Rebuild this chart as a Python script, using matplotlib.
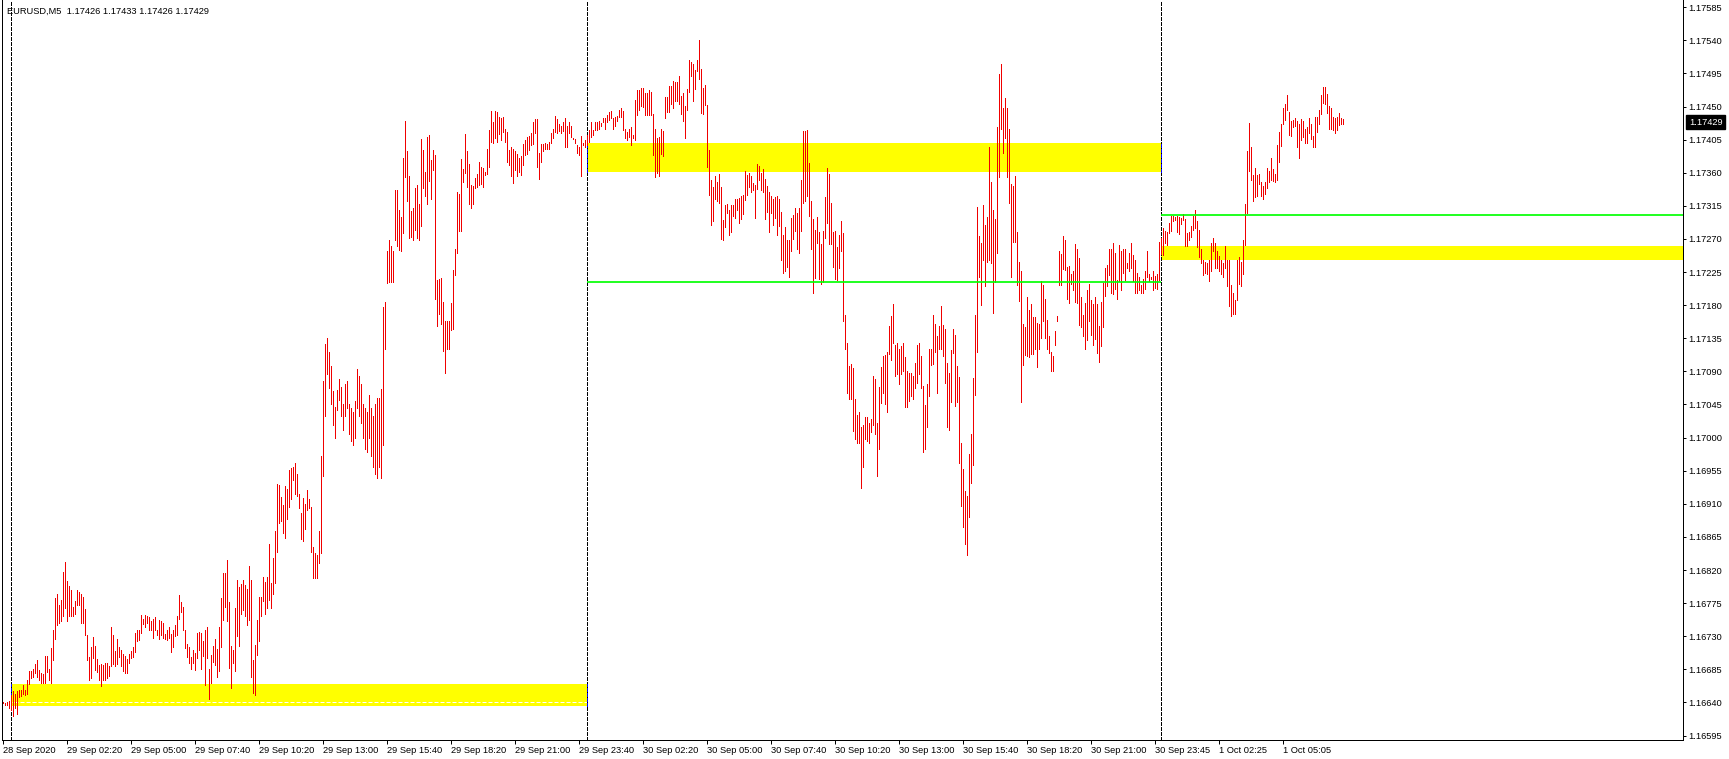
import matplotlib
matplotlib.use("Agg")
import matplotlib.pyplot as plt
import matplotlib.transforms as mtransforms
from matplotlib.patches import Rectangle
import numpy as np

# ---------------- data ----------------
title_text = "EURUSD,M5  1.17426 1.17433 1.17426 1.17429"
base_price = 1.16000   # prices below are in points (0.00001) above this base
point = 0.00001

highs_pts = [
    641,639,640,642,650,655,652,655,657,657,
    664,657,670,683,683,685,692,698,684,680,
    679,703,703,685,714,738,782,787,772,779,
    817,831,805,798,793,770,778,793,790,788,
    783,767,732,702,715,729,717,699,691,692,
    691,693,693,690,742,732,710,726,715,711,
    706,703,699,706,710,715,734,738,739,759,
    753,759,757,756,750,754,756,739,752,750,
    748,733,739,742,733,739,745,757,786,776,
    770,739,720,716,702,711,707,734,736,735,
    723,738,742,686,704,717,726,712,742,782,
    816,816,834,777,717,711,768,806,797,801,
    806,800,794,826,806,697,718,752,783,783,
    811,804,811,856,803,837,873,937,936,919,
    909,934,930,956,958,960,966,951,923,897,
    918,910,929,917,906,851,843,840,873,975,
    1077,1127,1135,1117,1097,1063,1042,1065,1079,1069,
    1045,1073,1077,1045,1040,1035,1050,1093,1084,1073,
    1045,1040,1035,1058,1040,1030,1045,1054,1054,1066,
    1178,1185,1253,1268,1260,1254,1336,1336,1310,1300,
    1380,1430,1390,1355,1308,1312,1340,1344,1318,1406,
    1391,1361,1408,1411,1377,1391,1384,1214,1216,1217,
    1185,1158,1158,1158,1183,1228,1256,1334,1331,1379,
    1365,1413,1389,1372,1343,1342,1353,1358,1375,1368,
    1366,1361,1392,1418,1444,1429,1444,1443,1436,1435,
    1436,1420,1416,1391,1395,1392,1389,1386,1380,1383,
    1399,1404,1409,1410,1414,1429,1433,1433,1387,1399,
    1399,1400,1399,1402,1414,1419,1437,1433,1427,1424,
    1429,1435,1424,1429,1423,1407,1406,1398,1395,1410,
    1401,1405,1412,1418,1429,1418,1429,1429,1430,1428,
    1435,1435,1438,1443,1444,1434,1436,1437,1445,1448,
    1444,1420,1416,1420,1422,1411,1459,1473,1472,1475,
    1475,1469,1469,1473,1470,1440,1420,1407,1408,1420,
    1417,1463,1463,1478,1478,1485,1483,1484,1491,1464,
    1469,1451,1474,1513,1511,1508,1500,1514,1540,1501,
    1475,1479,1452,1391,1350,1341,1355,1348,1359,1341,
    1296,1316,1318,1310,1316,1316,1325,1324,1326,1328,
    1330,1362,1357,1360,1355,1346,1343,1372,1369,1360,
    1365,1351,1342,1334,1328,1324,1327,1328,1325,1307,
    1275,1286,1268,1268,1298,1302,1312,1305,1312,1350,
    1417,1417,1418,1373,1322,1297,1282,1300,1280,1263,
    1281,1327,1366,1358,1319,1280,1281,1259,1275,1294,
    1278,1167,1129,1097,1100,1094,1053,1031,1035,1014,
    1017,1028,1028,1020,1025,1084,1079,1020,1069,1096,
    1111,1112,1117,1152,1165,1182,1126,1128,1120,1124,
    1128,1109,1090,1088,1088,1084,1101,1126,1128,1111,
    1070,1044,1073,1120,1121,1167,1155,1138,1152,1179,
    1153,1147,1101,1088,1119,1147,1140,1097,1082,993,
    957,928,920,978,1005,1081,1167,1313,1274,1265,
    1316,1289,1300,1395,1348,1309,1297,1422,1494,1508,
    1448,1461,1448,1420,1345,1342,1355,1279,1239,1227,
    1154,1151,1191,1174,1182,1164,1164,1156,1155,1213,
    1207,1189,1160,1138,1117,1111,1145,1165,1253,1250,
    1274,1269,1232,1233,1222,1227,1263,1256,1244,1191,
    1167,1183,1200,1209,1187,1182,1191,1182,1152,1185,
    1210,1230,1235,1256,1257,1265,1251,1214,1262,1253,
    1256,1257,1238,1251,1265,1248,1241,1224,1218,1208,
    1215,1227,1253,1222,1219,1227,1220,1222,1266,1271,
    1285,1281,1280,1292,1301,1301,1300,1301,1300,1298,
    1304,1297,1278,1279,1287,1301,1309,1294,1282,1256,
    1241,1239,1237,1242,1265,1271,1264,1253,1247,1241,
    1237,1260,1242,1241,1208,1196,1187,1242,1245,1239,
    1268,1318,1389,1428,1395,1357,1367,1357,1359,1347,
    1342,1348,1366,1362,1380,1365,1359,1398,1416,1426,
    1448,1454,1466,1443,1430,1432,1434,1430,1426,1433,
    1430,1420,1422,1434,1426,1410,1436,1436,1445,1466,
    1476,1476,1467,1451,1448,1436,1434,1436,1441,1434,
    1433,
]

lows_pts = [
    639,637,636,632,630,622,632,624,648,649,
    652,650,651,665,673,674,680,675,671,666,
    667,667,682,671,666,697,726,745,748,750,
    757,768,750,757,757,757,760,772,772,748,
    748,732,697,671,673,700,684,682,671,662,
    670,671,673,676,689,692,690,692,702,689,
    683,680,680,693,700,702,708,723,725,735,
    747,742,748,738,738,728,738,732,726,732,
    727,726,725,728,708,715,730,732,753,763,
    738,714,702,694,686,693,684,701,711,686,
    703,664,700,645,667,695,691,674,683,716,
    752,770,750,687,659,693,683,730,717,760,
    766,757,745,752,675,653,650,704,724,757,
    778,760,768,779,768,788,803,844,884,886,
    870,864,890,906,916,943,923,921,904,862,
    860,876,902,904,845,809,809,809,830,843,
    948,1029,1087,1067,1045,1017,999,1038,1051,1030,
    1010,1030,1040,1005,995,990,1000,1040,1030,1020,
    1000,985,980,1000,975,960,950,945,960,945,
    990,1121,1210,1211,1211,1211,1268,1260,1255,1254,
    1278,1354,1322,1272,1273,1268,1282,1272,1268,1288,
    1339,1329,1318,1349,1324,1364,1188,1152,1168,1154,
    1118,1088,1121,1121,1146,1147,1221,1251,1281,1281,
    1348,1360,1341,1318,1312,1318,1339,1341,1343,1345,
    1341,1357,1358,1368,1402,1401,1407,1402,1413,1404,
    1415,1402,1375,1371,1356,1346,1364,1356,1361,1357,
    1371,1384,1386,1391,1398,1399,1414,1368,1351,1375,
    1389,1392,1393,1393,1401,1407,1415,1414,1417,1414,
    1417,1395,1395,1414,1408,1406,1400,1387,1384,1356,
    1398,1395,1398,1402,1409,1411,1418,1418,1420,1424,
    1429,1420,1429,1432,1435,1420,1424,1430,1436,1436,
    1418,1407,1405,1409,1398,1407,1405,1438,1445,1451,
    1450,1438,1438,1438,1438,1384,1354,1360,1356,1386,
    1383,1435,1443,1443,1453,1448,1458,1457,1454,1440,
    1430,1407,1445,1470,1491,1458,1474,1498,1487,1441,
    1440,1452,1368,1330,1289,1295,1324,1321,1319,1270,
    1269,1286,1306,1275,1280,1301,1298,1310,1292,1297,
    1304,1323,1330,1341,1334,1337,1299,1338,1350,1337,
    1334,1297,1307,1280,1305,1289,1298,1275,1288,1241,
    1224,1227,1232,1218,1253,1270,1281,1257,1251,1281,
    1319,1322,1328,1301,1257,1196,1217,1264,1215,1209,
    1211,1271,1292,1263,1263,1232,1215,1214,1230,1253,
    1159,1121,1060,1053,1053,1009,998,993,992,932,
    960,998,995,993,1007,1017,1005,948,984,1047,
    1060,1046,1035,1114,1105,1128,1084,1087,1073,1086,
    1090,1042,1042,1050,1056,1053,1068,1074,1086,1068,
    981,984,1015,1057,1099,1100,1117,1060,1121,1120,
    1111,1074,1015,1011,1048,1115,1043,1048,965,907,
    878,856,841,892,938,963,1058,1117,1218,1180,
    1242,1206,1239,1241,1238,1170,1211,1251,1354,1420,
    1387,1407,1354,1319,1218,1266,1266,1208,1186,1049,
    1099,1112,1111,1109,1114,1114,1120,1096,1120,1136,
    1159,1136,1120,1115,1091,1091,1126,1158,1208,1208,
    1229,1228,1189,1183,1209,1200,1185,1183,1153,1151,
    1138,1120,1133,1158,1140,1126,1134,1115,1103,1124,
    1151,1193,1206,1221,1196,1195,1202,1189,1213,1201,
    1224,1214,1230,1226,1230,1213,1196,1197,1200,1197,
    1197,1202,1218,1213,1215,1200,1204,1202,1214,1250,
    1248,1265,1262,1278,1281,1294,1296,1279,1277,1290,
    1296,1260,1260,1269,1273,1282,1285,1259,1245,1237,
    1221,1224,1222,1213,1227,1253,1230,1230,1227,1222,
    1218,1230,1206,1179,1165,1168,1168,1187,1209,1206,
    1222,1262,1306,1363,1350,1321,1327,1329,1345,1328,
    1324,1331,1340,1347,1350,1349,1347,1350,1375,1396,
    1426,1432,1445,1411,1410,1422,1424,1395,1380,1405,
    1409,1401,1401,1414,1406,1395,1395,1416,1426,1440,
    1455,1454,1441,1420,1419,1418,1414,1418,1425,1426,
    1426,
]

last_price = 1.17429

time_labels = ["28 Sep 2020", "29 Sep 02:20", "29 Sep 05:00", "29 Sep 07:40",
               "29 Sep 10:20", "29 Sep 13:00", "29 Sep 15:40", "29 Sep 18:20",
               "29 Sep 21:00", "29 Sep 23:40", "30 Sep 02:20", "30 Sep 05:00",
               "30 Sep 07:40", "30 Sep 10:20", "30 Sep 13:00", "30 Sep 15:40",
               "30 Sep 18:20", "30 Sep 21:00", "30 Sep 23:45", "1 Oct 02:25",
               "1 Oct 05:05"]
bars_per_label = 32
day_start_bars = [4, 292, 579]   # 29 Sep 00:00, 30 Sep 00:00, 1 Oct 00:00

price_ticks = [1.17585, 1.17540, 1.17495, 1.17450, 1.17405, 1.17360, 1.17315,
               1.17270, 1.17225, 1.17180, 1.17135, 1.17090, 1.17045, 1.17000,
               1.16955, 1.16910, 1.16865, 1.16820, 1.16775, 1.16730, 1.16685,
               1.16640, 1.16595]

# zones: (start bar, end bar or None=right edge, low price, high price)
zones = [(4, 292, 1.166355, 1.16665),
         (292, 579, 1.173615, 1.174005),
         (579, None, 1.17242, 1.17260)]
# green levels: (start bar, end bar or None, price)
levels = [(292, 579, 1.17211), (579, None, 1.17302)]
white_level = 1.16641

# ---------------- drawing ----------------
W, H, DPI = 1729, 759, 100
PX = 72.0 / DPI   # one pixel in points
FONT = "Liberation Sans"
plt.rcParams["font.family"] = [FONT, "DejaVu Sans"]

fig = plt.figure(figsize=(W / DPI, H / DPI), dpi=DPI, facecolor="white")
ax_left, ax_right, ax_top, ax_bot = 2, 1683, 0, 740
ax = fig.add_axes([ax_left / W, (H - ax_bot) / H, (ax_right - ax_left) / W, (ax_bot - ax_top) / H])
ax.set_facecolor("white")

highs = base_price + np.array(highs_pts) * point
lows = base_price + np.array(lows_pts) * point
n = len(highs)
xs = np.arange(n)

XMAX = 840.0
ax.set_xlim(-0.5, XMAX)
ax.set_ylim(1.165889, 1.175949)

# zones
for x0, x1, lo, hi in zones:
    x1 = XMAX if x1 is None else x1
    ax.add_patch(Rectangle((x0, lo), x1 - x0, hi - lo, facecolor="#FFFF00",
                           edgecolor="none", zorder=0.5))

# white dashed level (visible only on yellow)
ax.axhline(white_level, color="white", lw=PX, ls=(0, (4, 2)), zorder=0.8)

# period separators
for xb in day_start_bars:
    ax.axvline(xb, color="black", lw=PX, ls=(0, (3, 2)), zorder=1.0, antialiased=False)
# separator over yellow rectangles rendered blue
for xb in day_start_bars:
    for x0, x1, lo, hi in zones[:2]:
        if xb == x0 or xb == x1:
            ax.vlines(xb, lo, hi, colors="#0000FF", lw=PX, linestyles=(0, (3, 2)),
                      zorder=1.1, antialiased=False)

# bars
ax.vlines(xs, lows, highs, colors="#F00000", linewidth=PX, zorder=2, antialiased=False)

# green levels
for x0, x1, p in levels:
    x1 = XMAX if x1 is None else x1
    ax.hlines(p, x0, x1, colors="#00FF00", linewidth=1.7 * PX, zorder=3)

# axes styling
for s in ["top"]:
    ax.spines[s].set_visible(False)
for s in ["left", "right", "bottom"]:
    ax.spines[s].set_linewidth(PX)
    ax.spines[s].set_color("black")

ax.yaxis.tick_right()
ax.set_yticks(price_ticks)
ax.set_yticklabels([f"{p:.5f}" for p in price_ticks])
ax.tick_params(axis="y", which="both", direction="out", length=3 * PX, width=PX,
               labelsize=6.7, pad=2.5 * PX, colors="black", left=False)

tick_pos = [i * bars_per_label for i in range(len(time_labels))]
ax.set_xticks(tick_pos)
ax.set_xticklabels(time_labels, ha="left")
ax.tick_params(axis="x", which="both", direction="out", length=4 * PX, width=PX,
               labelsize=6.7, pad=2 * PX, colors="black")

# title
fig.text(7 / W, (H - 11) / H, title_text, fontsize=6.7, color="black",
         ha="left", va="center")

# current price label on axis
trans = mtransforms.blended_transform_factory(fig.transFigure, ax.transData)
fig.text(1689 / W, last_price, f"{last_price:.5f}", transform=trans, fontsize=6.7,
         color="white", ha="left", va="center",
         bbox=dict(boxstyle="square,pad=0.3", facecolor="black", edgecolor="black"))

fig.savefig("out.png", dpi=DPI, facecolor="white")
